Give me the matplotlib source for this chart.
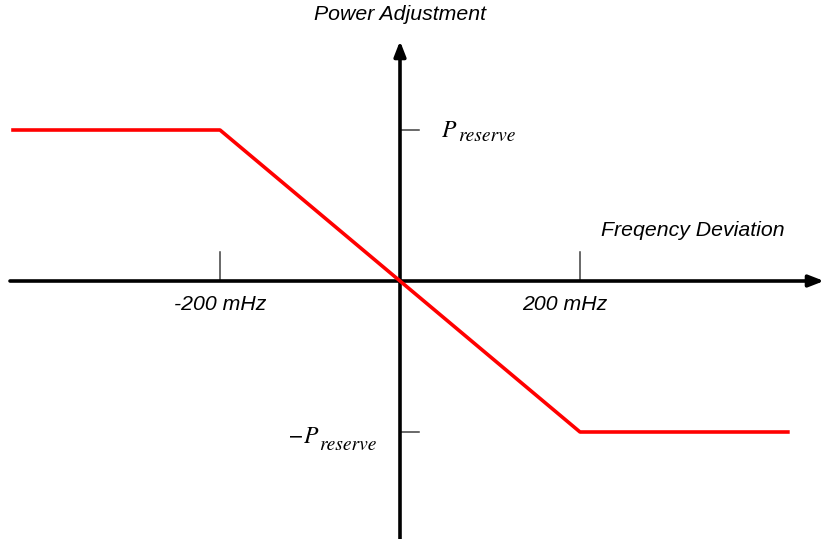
import matplotlib
matplotlib.use("Agg")
import matplotlib.pyplot as plt

plt.rcParams['font.family'] = ['Liberation Sans', 'DejaVu Sans']

# droop characteristic: frequency deviation (mHz) vs normalised power adjustment
freq = [-432, -200, 200, 433]
power = [1, 1, -1, -1]
tick_freqs = [-200, 200]
tick_labels = ["-200 mHz", "200 mHz"]
p_levels = [1, -1]
p_names = ["P", "\u2212P"]

# 0.9 px per mHz, 151 px per unit of P; origin at pixel (400, 281)
def px(x, y):
    return (x - 400) / 0.9, (281 - y) / 151

fig = plt.figure(figsize=(8.24, 5.39), dpi=100)
ax = fig.add_axes([0, 0, 1, 1])
ax.set_xlim(-400 / 0.9, 424 / 0.9)
ax.set_ylim(-(539 - 281) / 151, 281 / 151)
ax.axis("off")

# axes with arrows
arrow = dict(arrowstyle="-|>,head_length=0.9,head_width=0.35", lw=2.6, color="black",
             shrinkA=0, shrinkB=0)
ax.annotate("", xy=px(824, 281), xytext=px(10, 281), arrowprops=arrow)
ax.annotate("", xy=px(400, 41), xytext=px(400, 539), arrowprops=arrow)

# tick marks
for f in tick_freqs:
    ax.plot([f, f], [0, 29 / 151], color="#404040", lw=1.1)
for p in p_levels:
    ax.plot([0, 19 / 0.9], [p, p], color="#404040", lw=1.1)

ax.plot(freq, power, color="#ff0000", lw=2.6, solid_capstyle="butt", zorder=3)

# labels
it = dict(fontsize=15.3, style="italic")
ax.text(tick_freqs[0], px(0, 305)[1], tick_labels[0], ha="center", va="center", **it)
ax.text(183, px(0, 305)[1], tick_labels[1], ha="center", va="center", **it)
ax.text(*px(400, 15), "Power Adjustment", ha="center", va="center", **it)
ax.text(*px(693, 230), "Freqency Deviation", ha="center", va="center", **it)

# P_reserve labels, main letter and subscript drawn separately
serif = dict(family="STIXGeneral", style="italic")
ax.text(*px(442, 137), p_names[0], ha="left", va="baseline", fontsize=17, **serif)
ax.text(*px(458, 141), "reserve", ha="left", va="baseline", fontsize=14, **serif)
ax.text(*px(318, 443), p_names[1], ha="right", va="baseline", fontsize=17, **serif)
ax.text(*px(319, 450), "reserve", ha="left", va="baseline", fontsize=14, **serif)

fig.savefig("out.png", dpi=100)
